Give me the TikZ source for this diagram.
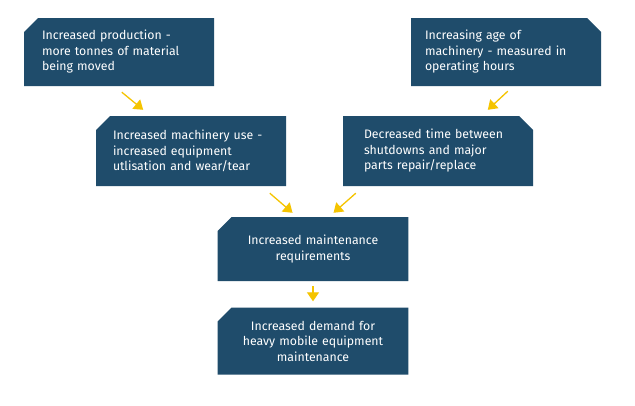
\documentclass[tikz,border=0pt]{standalone}
\usepackage{fontspec}
\setmainfont{Fira Sans}
\usetikzlibrary{arrows.meta,shapes.misc,positioning,calc}
\definecolor{boxblue}{HTML}{1F4C6B}
\definecolor{flowyellow}{HTML}{F5C400}
\tikzset{
  box/.style={shape=chamfered rectangle,fill=boxblue,text=white,
    font=\fontsize{12.3}{15.5}\selectfont,minimum width=190pt,
    chamfered rectangle xsep=7pt,chamfered rectangle ysep=7pt,
    inner ysep=4pt,align=left},
  boxL/.style={box,chamfered rectangle corners=north west},
  boxR/.style={box,chamfered rectangle corners=north east},
  flow/.style={draw=flowyellow,line width=1.3pt,
    -{Triangle[width=12pt,length=9pt]}}
}
\begin{document}
\begin{tikzpicture}[x=1pt,y=-1pt]
\useasboundingbox[fill=white] (0,0) rectangle (635,405);
\path (119,52) node(prod)[boxL,minimum height=68pt,text width=154pt] {Increased production -\\more tonnes of material\\being moved};
\path (506,52) node(age)[boxR,minimum height=68pt,text width=162pt] {Increasing age of\\machinery - measured in\\operating hours};
\path (191,151) node(use)[boxL,minimum height=70pt,text width=156pt] {Increased machinery use -\\increased equipment\\utlisation and wear/tear};
\path (438,151) node(time)[boxR,minimum height=70pt,text width=148pt] {Decreased time between\\shutdowns and major\\parts repair/replace};
\path (313,249) node(maint)[boxL,minimum height=64pt,text width=170pt,align=center] {Increased maintenance\\requirements};
\path (313,341) node(demand)[boxL,minimum height=67pt,text width=170pt,align=center] {Increased demand for\\heavy mobile equipment\\maintenance};
\draw[flow] ([shift={(98,6)}]prod.south west) -- ([shift={(-143,-6)}]use.north east);
\draw[flow] ([shift={(97,5)}]age.south west) -- ([shift={(145,-6)}]time.north west);
\draw[flow] ([shift={(174,7)}]use.south west) -- ([shift={(-116,-4)}]maint.north east);
\draw[flow] ([shift={(13,7)}]time.south west) -- ([shift={(-75,-4)}]maint.north east);
\draw[flow] ([yshift=-5pt]maint.south) -- ([yshift=6pt]demand.north);
\end{tikzpicture}
\end{document}
